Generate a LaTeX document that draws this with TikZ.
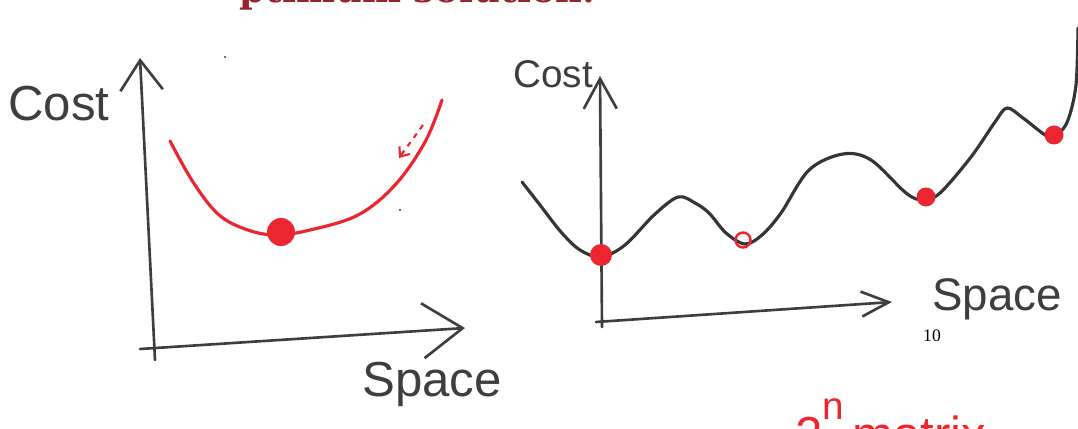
\documentclass[tikz,border=0pt]{standalone}
\usepackage{fontspec}
\setmainfont{Liberation Serif}
\setsansfont{Liberation Sans}
\newfontfamily\titlefont{DejaVu Serif}
\usetikzlibrary{arrows.meta,positioning}
\definecolor{ink}{RGB}{62,62,62}
\definecolor{pen}{RGB}{236,38,48}
\definecolor{titlered}{RGB}{150,36,46}

\begin{document}
\begin{tikzpicture}[
  x=0.02cm, y=-0.02cm,
  hand/.style={font=\sffamily, text=ink, inner sep=0pt},
  axisline/.style={draw=ink, line width=1.5pt, line cap=round, line join=round},
  redline/.style={draw=pen, line width=1.8pt, line cap=round},
  inkline/.style={draw=ink!85!black, line width=1.8pt, line cap=round, line join=round},
  blob/.style={circle, fill=pen, inner sep=0pt, minimum size=#1},
  ring/.style={circle, draw=pen, line width=1.4pt, inner sep=0pt, minimum size=#1},
]
  \useasboundingbox (0,0) rectangle (1078,429);

  % title line, cut off by the top edge
  \node[anchor=base west, inner sep=0pt, text=titlered,
        font=\titlefont\bfseries\fontsize{21}{24}\selectfont] (title) at (239,3) {ptimum solution.};

  % left sketch: one smooth valley
  \coordinate (L-ybot) at (155,360);
  \coordinate (L-ytop) at (140,58);
  \coordinate (L-xlft) at (140,349);
  \coordinate (L-xrgt) at (465,328);
  \draw[axisline, -{Straight Barb[length=6mm,width=8.5mm]}] (L-ybot) -- (L-ytop);
  \draw[axisline, -{Straight Barb[length=8mm,width=11mm]}] (L-xlft) -- (L-xrgt);
  \node[hand, anchor=base west, font=\sffamily\fontsize{28}{32}\selectfont] (L-cost) at (8,120) {Cost};
  \node[hand, anchor=base west, font=\sffamily\fontsize{28}{32}\selectfont] (L-space) at (362,396) {Space};

  \draw[redline] plot[smooth, tension=0.6] coordinates {
    (170,141) (193,182) (218,214) (245,229) (275,235) (310,230)
    (358,215) (395,185) (425,142) (442,100)};
  \node[blob=0.56cm] (L-min) at (281,232) {};
  \coordinate (L-hint-a) at (423,125);
  \coordinate (L-hint-b) at (399,158);
  \draw[pen, line width=1.2pt, dash pattern=on 3pt off 3pt,
        -{Straight Barb[length=1.6mm,width=2.6mm]}] (L-hint-a) -- (L-hint-b);
  \fill[ink] (225,57) circle (1.2) (400,210) circle (1.2);

  % right sketch: bumpy landscape with many local minima
  \coordinate (R-ybot) at (602,327);
  \coordinate (R-ytop) at (600,76);
  \coordinate (R-xlft) at (596,322);
  \coordinate (R-xrgt) at (892,302);
  \draw[axisline, -{Straight Barb[length=6mm,width=6.6mm]}] (R-ybot) -- (R-ytop);
  \draw[axisline, -{Straight Barb[length=5.5mm,width=5mm]}] (R-xlft) -- (R-xrgt);
  \node[hand, anchor=base west, font=\sffamily\fontsize{22}{26}\selectfont] (R-cost) at (513,88) {Cost};
  \node[hand, anchor=base west, font=\sffamily\fontsize{26}{30}\selectfont] (R-space) at (932,310) {Space};
  \node[inner sep=0pt, font=\fontsize{10}{12}\selectfont] (pagenum) at (932,336) {10};

  \draw[inkline] plot[smooth, tension=0.55] coordinates {
    (522,182) (540,205) (561,232) (580,250) (601,257) (625,245) (654,215)
    (678,197) (695,203) (709,213) (726,233) (745,244) (762,235) (781,213)
    (809,170) (843,154) (871,160) (906,193) (923,200) (940,193) (971,157)
    (995,122) (1007,108) (1023,118) (1047,136) (1058,134) (1068,120)
    (1076,85) (1078,28)};
  \node[blob=0.44cm] (R-min-a) at (601,255) {};
  \node[ring=0.3cm] (R-min-b) at (743,240) {};
  \node[blob=0.38cm] (R-min-c) at (926,197) {};
  \node[blob=0.38cm] (R-min-d) at (1054,135) {};

  % red note, cut off by the bottom edge
  \node[anchor=base west, inner sep=0pt, text=pen,
        font=\sffamily\fontsize{28}{32}\selectfont] (note) at (795,451)
        {2\raisebox{0.65em}{\fontsize{22}{22}\selectfont n}\,matrix};
\end{tikzpicture}
\end{document}
